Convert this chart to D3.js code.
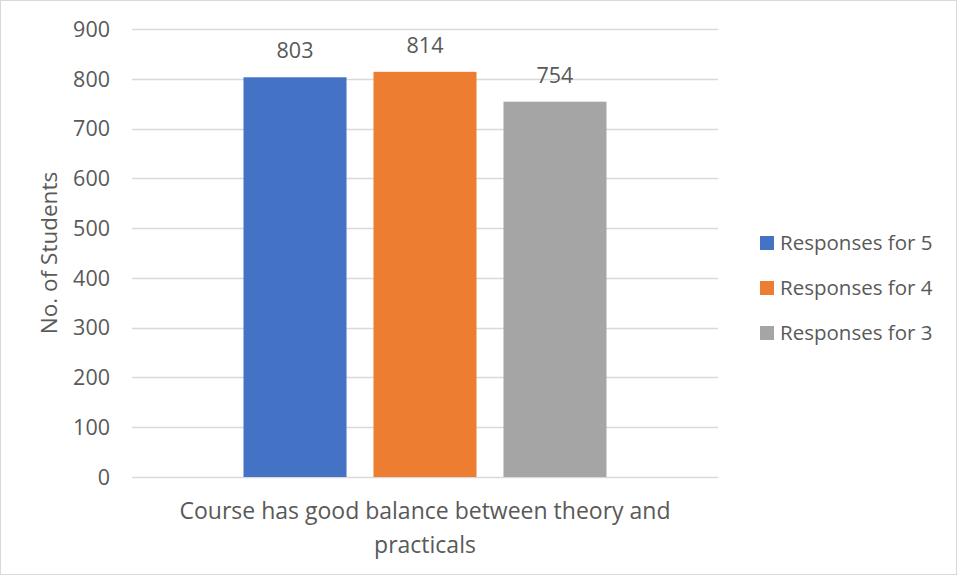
<!DOCTYPE html>
<html><head><meta charset="utf-8">
<script src="https://cdn.jsdelivr.net/npm/d3@7"></script>
<style>
html,body{margin:0;padding:0;background:#fff;}
svg{display:block;}
text{font-family:"Open Sans","Noto Sans",sans-serif;fill:#595959;}
</style></head>
<body>
<svg id="chart" width="959" height="577"></svg>
<script>
const categories = ["Course has good balance between theory and practicals"];
const categoryLines = [["Course has good balance between theory and", "practicals"]];
const seriesNames = ["Responses for 5", "Responses for 4", "Responses for 3"];
const seriesValues = [803, 814, 754];
const seriesColors = ["#4472C4", "#ED7D31", "#A5A5A5"];
const yTicks = [0, 100, 200, 300, 400, 500, 600, 700, 800, 900];
const yTitle = "No. of Students";

const W = 959, H = 577;
const svg = d3.select("#chart");
const plot = {left: 132, right: 718, top: 29, bottom: 477};

svg.append("rect").attr("x", 0.5).attr("y", 0.5).attr("width", W - 3).attr("height", H - 3)
  .attr("fill", "#fff").attr("stroke", "#d9d9d9").attr("stroke-width", 1);

const y = d3.scaleLinear().domain([0, 900]).range([plot.bottom, plot.top]);
const x0 = d3.scaleBand().domain(categories).range([plot.left, plot.right]).paddingInner(0).paddingOuter(0);
const groupWidth = 363;
const cx = x0(categories[0]) + x0.bandwidth()/2;
const x1 = d3.scaleBand().domain(seriesNames)
  .range([cx - groupWidth/2, cx + groupWidth/2])
  .paddingInner(0.2075).paddingOuter(0);

// gridlines
svg.append("g").selectAll("line").data(yTicks).join("line")
  .attr("x1", plot.left).attr("x2", plot.right)
  .attr("y1", d => Math.round(y(d)) + 0.5).attr("y2", d => Math.round(y(d)) + 0.5)
  .attr("stroke", "#d9d9d9").attr("stroke-width", 1.3);

// y axis labels
const yAxis = d3.axisLeft(y).tickValues(yTicks).tickSize(0).tickPadding(0);
const ga = svg.append("g").attr("transform", `translate(${plot.left - 22},0)`).call(yAxis);
ga.select(".domain").remove();
ga.selectAll("text").style("font-family", '"Open Sans","Noto Sans",sans-serif')
  .style("font-size", "21.5px").attr("fill", "#595959").attr("dy", "0.34em");

// bars
svg.append("g").selectAll("rect").data(seriesNames).join("rect")
  .attr("x", (d) => x1(d)).attr("width", x1.bandwidth())
  .attr("y", (d, i) => y(seriesValues[i])).attr("height", (d, i) => y(0) - y(seriesValues[i]))
  .attr("fill", (d, i) => seriesColors[i]);

// data labels
svg.append("g").selectAll("text").data(seriesNames).join("text")
  .attr("x", d => x1(d) + x1.bandwidth()/2)
  .attr("y", (d, i) => y(seriesValues[i]) - 19)
  .attr("text-anchor", "middle").style("font-size", "21.5px")
  .text((d, i) => seriesValues[i]);

// category label
const cl = svg.append("text").attr("text-anchor", "middle").style("font-size", "23px");
categoryLines[0].forEach((line, i) => {
  cl.append("tspan").attr("x", cx).attr("y", 519 + i * 34).text(line);
});

// y title
svg.append("text").attr("transform", `translate(57,${(plot.top + plot.bottom)/2}) rotate(-90)`)
  .attr("text-anchor", "middle").style("font-size", "22.5px").text(yTitle);

// legend
const lg = svg.append("g").attr("transform", "translate(760,236)");
const items = lg.selectAll("g").data(seriesNames).join("g")
  .attr("transform", (d, i) => `translate(0,${i * 45})`);
items.append("rect").attr("width", 14).attr("height", 14).attr("fill", (d, i) => seriesColors[i]);
items.append("text").attr("x", 20).attr("y", 7).attr("dy", "0.35em").style("font-size", "20.5px").text(d => d);
</script>
</body></html>
